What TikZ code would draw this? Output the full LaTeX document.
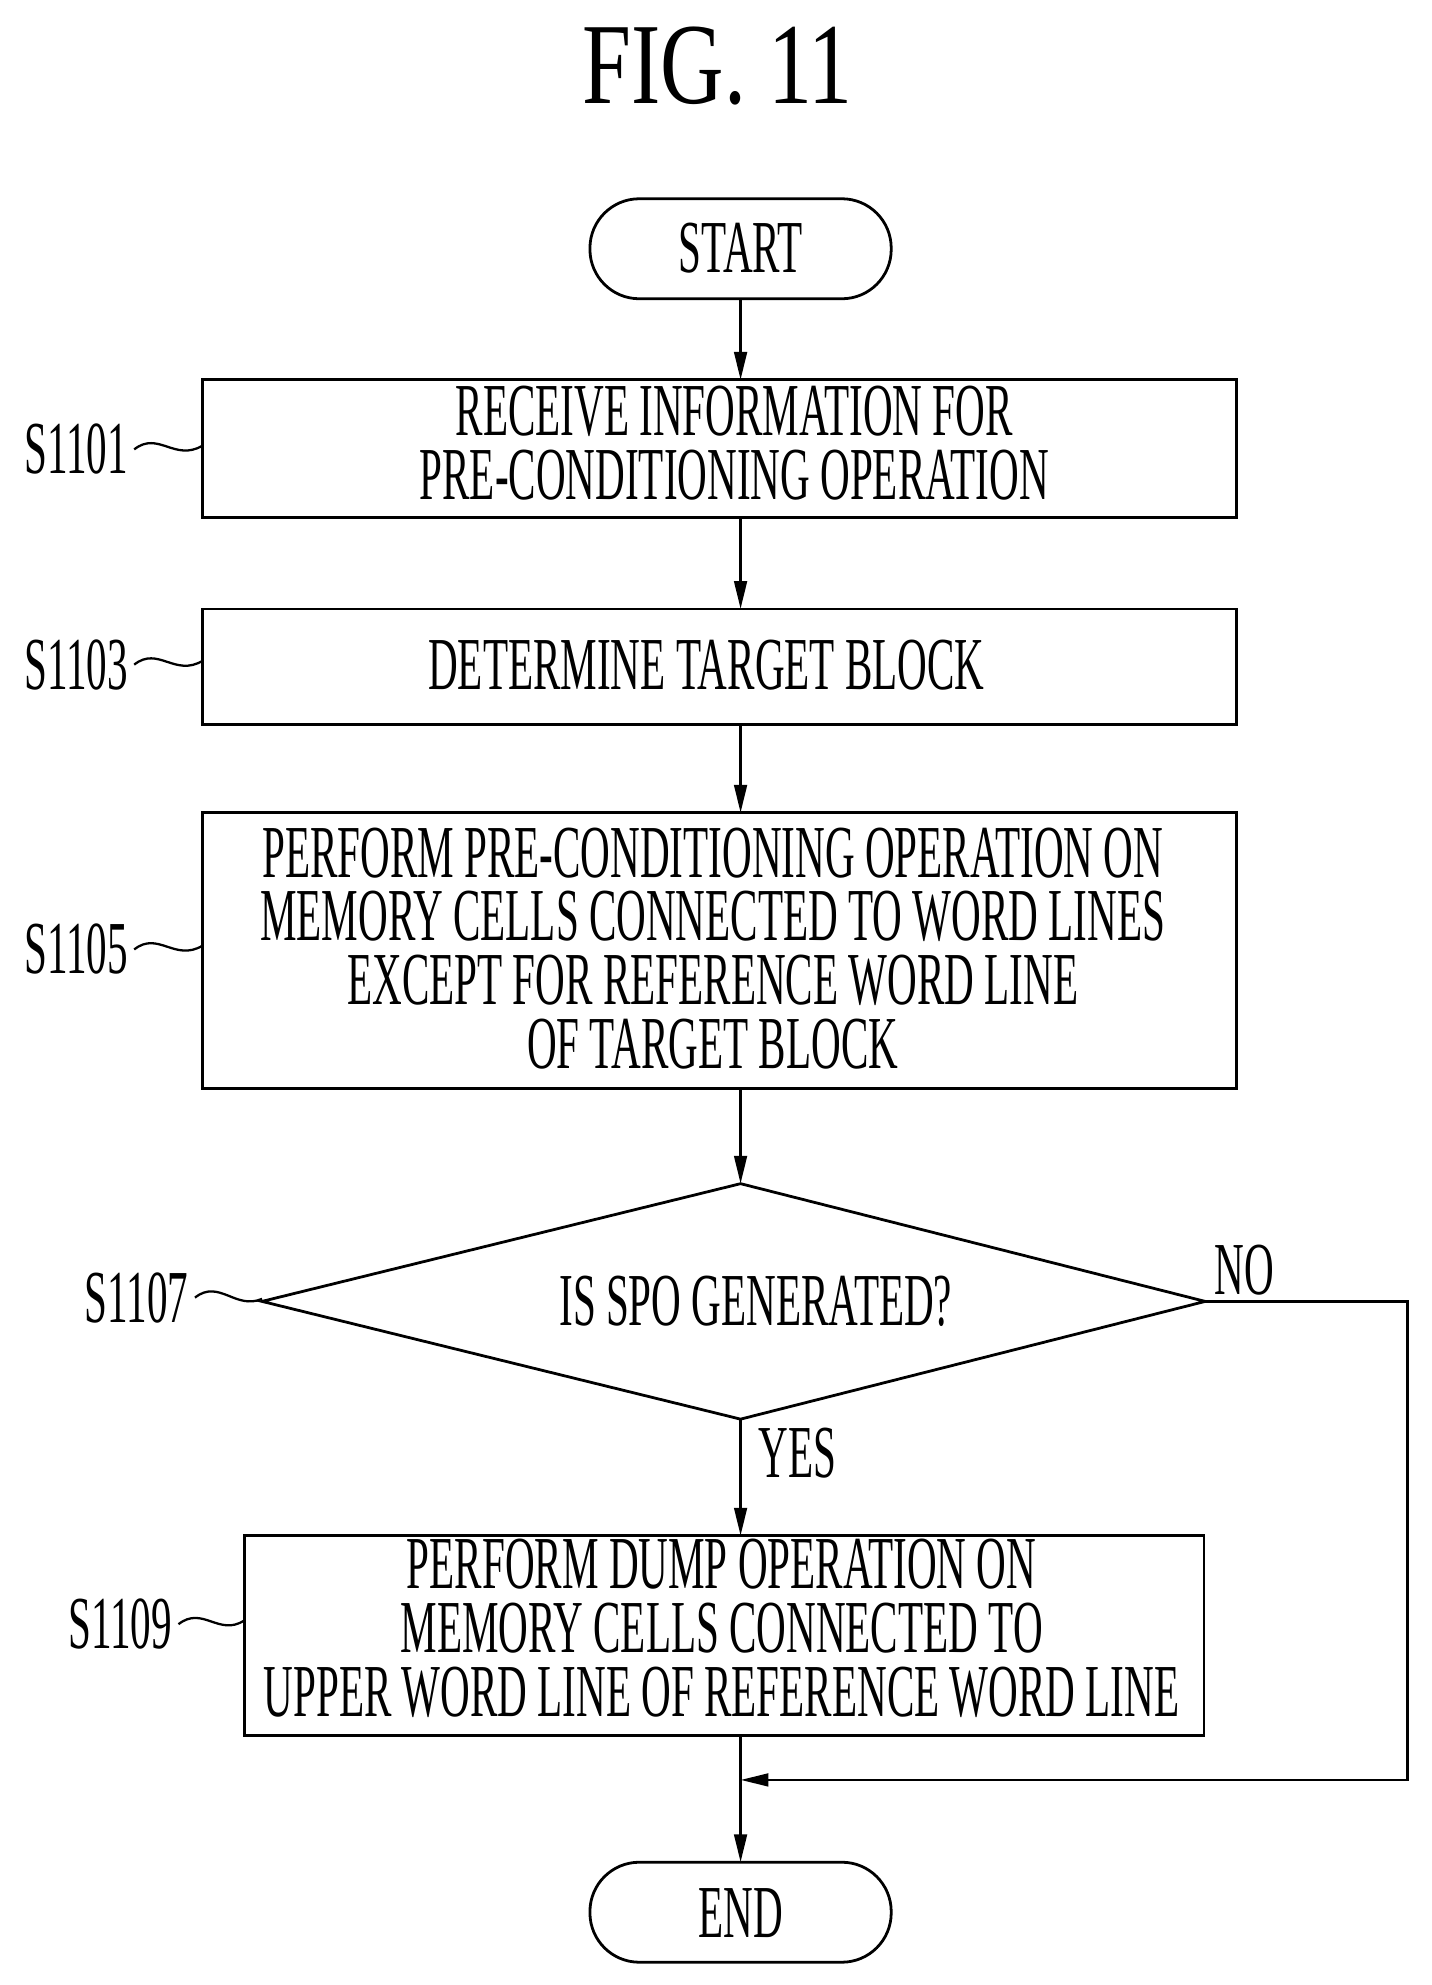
\documentclass[tikz,border=0pt]{standalone}
\usepackage{fontspec}
\newfontfamily\cond[FakeStretch=0.55]{Liberation Serif}
\newfontfamily\condt[FakeStretch=0.76]{Liberation Serif}
\usetikzlibrary{shapes.geometric,arrows.meta}
\begin{document}
\begin{tikzpicture}[x=0.5mm,y=-0.5mm,
  every node/.style={font=\cond\fontsize{84}{96}\selectfont, inner sep=0},
  box/.style={draw, line width=1.1mm},
  ln/.style={line width=1.1mm},
  arr/.style={ln,-{Triangle[length=11mm,width=5mm]}},
  sq/.style={line width=0.9mm}]
\useasboundingbox (0,0) rectangle (1131,1568);
\node at (567,52) {\condt\fontsize{130}{140}\selectfont FIG. 11};
\draw[ln,rounded corners=19.5mm] (466,157) rectangle (704,236);
\node (start) at (585,196) {START};
\coordinate (startb) at (585,236);
\draw[box] (160,300) rectangle (977,409);
\coordinate (b1t) at (585,300); \coordinate (b1b) at (585,409);
\node (t1) at (580,356) {\begin{tabular}{c}RECEIVE INFORMATION FOR\\[-8.5mm]PRE-CONDITIONING OPERATION\end{tabular}};
\draw[box] (160,481) rectangle (977,572);
\coordinate (b2t) at (585,481); \coordinate (b2b) at (585,572);
\node (t2) at (558,525) {DETERMINE TARGET BLOCK};
\draw[box] (160,642) rectangle (977,860);
\coordinate (b3t) at (585,642); \coordinate (b3b) at (585,860);
\node (t3) at (563,755) {\begin{tabular}{c}PERFORM PRE-CONDITIONING OPERATION ON\\[-8.5mm]MEMORY CELLS CONNECTED TO WORD LINES\\[-8.5mm]EXCEPT FOR REFERENCE WORD LINE\\[-8.5mm]OF TARGET BLOCK\end{tabular}};
\draw[ln] (585,935) -- (952,1028) -- (585,1121) -- (207,1028) -- cycle;
\coordinate (dt) at (585,935); \coordinate (db) at (585,1121); \coordinate (dr) at (952,1028);
\node (t4) at (597,1028) {IS SPO GENERATED?};
\draw[box] (193,1213) rectangle (951,1371);
\coordinate (b5t) at (585,1213); \coordinate (b5b) at (585,1371);
\node (t5) at (570,1292) {\begin{tabular}{c}PERFORM DUMP OPERATION ON\\[-8.5mm]MEMORY CELLS CONNECTED TO\\[-8.5mm]UPPER WORD LINE OF REFERENCE WORD LINE\end{tabular}};
\draw[ln,rounded corners=19.5mm] (466,1471) rectangle (704,1550);
\node (end) at (585,1511) {END};
\coordinate (endt) at (585,1471);
\coordinate (j) at (585,1406);
\draw[arr] (startb) -- (b1t);
\draw[arr] (b1b) -- (b2t);
\draw[arr] (b2b) -- (b3t);
\draw[arr] (b3b) -- (dt);
\draw[arr] (db) -- (b5t);
\draw[arr] (b5b) -- (endt);
\draw[arr] (dr) -- (1112,1028) -- (1112,1406) -- (j);
\node at (630,1148) {YES};
\node at (983,1003) {NO};
\node (l1) at (60,355) {S1101};
\draw[sq] (106,355) .. controls (125,340) and (138,365) .. (160,352);
\node (l2) at (60,525) {S1103};
\draw[sq] (106,525) .. controls (125,510) and (138,535) .. (160,522);
\node (l3) at (60,750) {S1105};
\draw[sq] (106,750) .. controls (125,735) and (138,760) .. (160,747);
\node (l4) at (108,1025) {S1107};
\draw[sq] (154,1025) .. controls (173,1010) and (186,1035) .. (207,1026);
\node (l5) at (95,1283) {S1109};
\draw[sq] (141,1283) .. controls (160,1268) and (173,1293) .. (193,1280);
\end{tikzpicture}
\end{document}
